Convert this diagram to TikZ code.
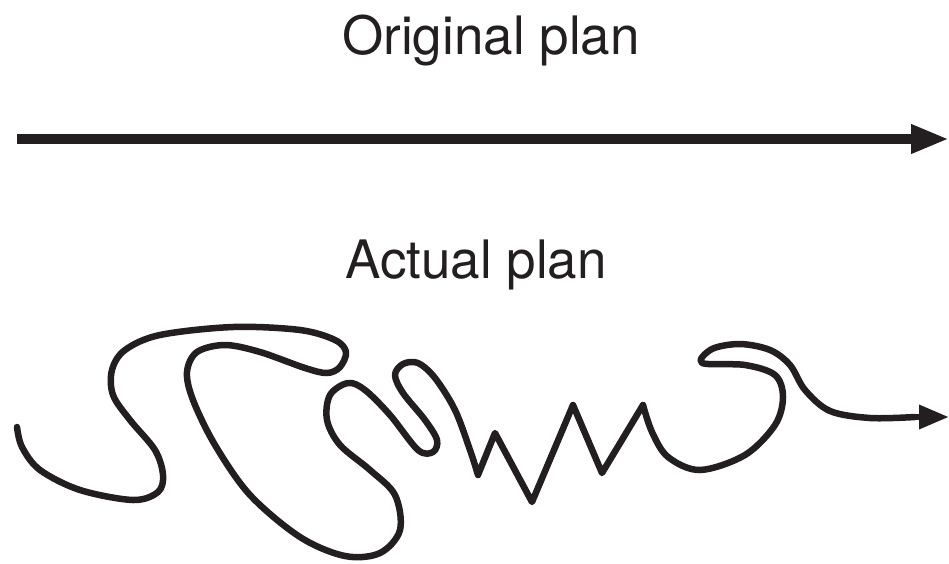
\documentclass[tikz,border=0pt]{standalone}
\usepackage{fontspec}
\setmainfont{TeX Gyre Heros}
\usetikzlibrary{arrows.meta}
\definecolor{ink}{RGB}{35,31,32}
\tikzset{
  lbl/.style={anchor=base, inner sep=0pt, text=ink, font=\fontsize{53}{60}\selectfont},
  straightarrow/.style={draw=ink, line width=10pt, -{Triangle[length=38pt,width=27pt]}},
  squig/.style={draw=ink, line width=6.5pt, line join=round, line cap=round},
}
\begin{document}
\begin{tikzpicture}[x=1pt,y=-1pt]
\useasboundingbox (0,0) rectangle (949,563);
\node[lbl] (orig) at (491,54) {Original plan};
\node[lbl] (act) at (476,278) {Actual plan};
\coordinate (s) at (17,139);
\coordinate (e) at (949,139);
\draw[straightarrow] (s) -- (e);
\draw[squig] plot[smooth, tension=0.55] coordinates {
 (17,427) (22,447) (40,470) (80,490) (133,500) (158,492) (163,475) (155,450)
 (130,420) (113,395) (112,370) (125,350) (160,335) (233,327) (300,330) (335,340)
 (346,352) (340,367) (327,373) (305,368) (260,352) (225,345) (197,352) (187,372)
 (193,400) (215,445) (250,495) (300,537) (345,556) (380,553) (400,530) (395,495)
 (370,470) (340,445) (327,420) (330,395) (348,383) (365,390) (390,415) (418,450)
 (433,452) (437,440) (425,420) (403,393) (395,375) (403,364) (418,363) (435,378)
 (455,410) (470,450) (478,475)}
 -- (495,433) -- (532,502) -- (573,405) -- (602,473) -- (643,405);
\draw[squig] plot[smooth, tension=0.55] coordinates {
 (643,405) (652,432) (668,457) (700,470) (745,455) (775,425) (783,397) (775,375)
 (745,365) (702,363) (712,349) (740,344) (770,350) (790,365) (805,390) (830,411)
 (870,418) (915,417)};
\coordinate (q) at (915,417);
\coordinate (qe) at (949,417);
\draw[draw=ink, line width=6.5pt, -{Triangle[length=30pt,width=23pt]}] (q) -- (qe);
\end{tikzpicture}
\end{document}
